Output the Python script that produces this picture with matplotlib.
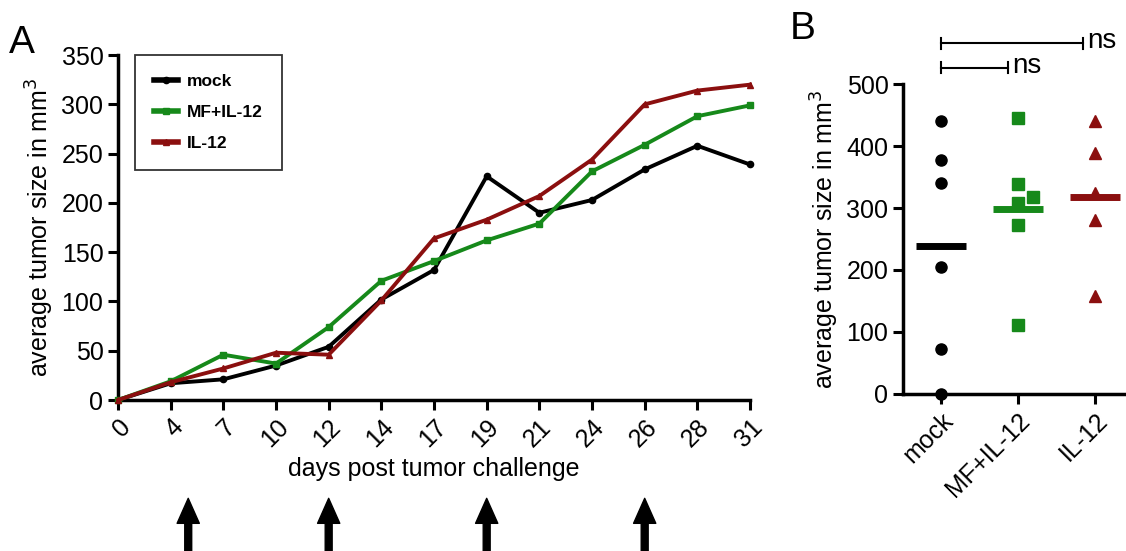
import numpy as np
import matplotlib
matplotlib.use("Agg")
import matplotlib.pyplot as plt

plt.rcParams["font.family"] = ["Liberation Sans", "DejaVu Sans"]

# ── Panel A: growth curves ───────────────────────────────────────────────────
days = [0, 4, 7, 10, 12, 14, 17, 19, 21, 24, 26, 28, 31]
mock = [0, 17, 21, 35, 54, 102, 132, 227, 190, 203, 234, 258, 239]
mf_il12 = [0, 19, 46, 37, 74, 121, 141, 162, 179, 232, 259, 288, 299]
il12 = [0, 18, 32, 48, 46, 101, 164, 183, 207, 244, 300, 314, 320]
treatment_days = [5, 12, 19, 26]

# ── Panel B: individual tumor sizes ──────────────────────────────────────────
groups = ["mock", "MF+IL-12", "IL-12"]
pts_mock = [440, 378, 340, 205, 72, 0]
pts_mf = [445, 338, 308, 318, 272, 112]
pts_il12 = [440, 388, 325, 280, 158]

BLACK = "#000000"
GREEN = "#16891a"
RED = "#8b0f0f"
FS = 18

fig = plt.figure(figsize=(11.26, 5.51), dpi=100)

# ── A ────────────────────────────────────────────────────────────────────────
axA = fig.add_axes([0.1048, 0.274, 0.5613, 0.626])
idx = np.arange(len(days))
styles = [("mock", mock, BLACK, "o"),
          ("MF+IL-12", mf_il12, GREEN, "s"),
          ("IL-12", il12, RED, "^")]
for name, vals, col, mk in styles:
    axA.plot(idx, vals, color=col, lw=2.8, marker=mk, ms=4.5,
             label=name, clip_on=False, zorder=3)

axA.set_xlim(0, len(days) - 1)
axA.set_ylim(0, 350)
axA.set_yticks(range(0, 351, 50))
axA.set_xticks(idx)
axA.set_xticklabels([str(d) for d in days], rotation=45,
                    ha="right", va="top", rotation_mode="anchor")
axA.set_xlabel("days post tumor challenge", fontsize=FS, labelpad=4)
axA.set_ylabel("average tumor size in mm$^3$", fontsize=FS, labelpad=4)

leg = axA.legend(loc="upper left", bbox_to_anchor=(0.027, 1.0),
                 borderaxespad=0, frameon=True, fancybox=False,
                 edgecolor="black", prop={"weight": "bold", "size": 12.5},
                 handlelength=1.4, handletextpad=0.5,
                 borderpad=1.1, labelspacing=0.9)
leg.get_frame().set_linewidth(1.3)
for h in leg.get_lines():
    h.set_linewidth(4)

# treatment arrows under the axis
for d in treatment_days:
    x = np.interp(d, days, idx)
    axA.annotate("", xy=(x, -0.285), xytext=(x, -0.45),
                 xycoords=axA.get_xaxis_transform(),
                 textcoords=axA.get_xaxis_transform(),
                 arrowprops=dict(facecolor="black", edgecolor="black",
                                 width=5, headwidth=16, headlength=18,
                                 shrink=0))

# ── B ────────────────────────────────────────────────────────────────────────
axB = fig.add_axes([0.802, 0.285, 0.198, 0.5625])
mf_offset = [0, 0, 0, 0.2, 0, 0]
point_sets = [(pts_mock, [0] * len(pts_mock), BLACK, "o", 8),
              (pts_mf, mf_offset, GREEN, "s", 8),
              (pts_il12, [0] * len(pts_il12), RED, "^", 9)]
for i, (vals, offs, col, mk, ms) in enumerate(point_sets):
    xs = [i + o for o in offs]
    axB.plot(xs, vals, ls="none", marker=mk, ms=ms, color=col,
             clip_on=False, zorder=3)
    m = np.mean(vals)
    axB.plot([i - 0.32, i + 0.32], [m, m], color=col, lw=5,
             solid_capstyle="butt", zorder=4)

axB.set_xlim(-0.49, 2.4)
axB.set_ylim(0, 500)
axB.set_yticks(range(0, 501, 100))
axB.set_xticks(range(len(groups)))
axB.set_xticklabels(groups, rotation=45, ha="right", va="top",
                    rotation_mode="anchor")
axB.set_ylabel("average tumor size in mm$^3$", fontsize=FS, labelpad=4)

# significance brackets
for x1, yb in [(1.84, 566), (0.87, 526)]:
    axB.plot([0, x1], [yb, yb], color="black", lw=1.5, clip_on=False)
    for xe in (0, x1):
        axB.plot([xe, xe], [yb - 9, yb + 9], color="black", lw=1.5,
                 clip_on=False)
    axB.text(x1 + 0.06, yb + 3, "ns", fontsize=20, ha="left", va="center",
             clip_on=False)

for ax in (axA, axB):
    for side in ("top", "right"):
        ax.spines[side].set_visible(False)
    for side in ("left", "bottom"):
        ax.spines[side].set_linewidth(2.5)
    ax.tick_params(width=2.2, length=7, labelsize=FS, direction="out")

fig.text(0.008, 0.89, "A", fontsize=28, va="bottom")
fig.text(0.701, 0.915, "B", fontsize=28, va="bottom")

fig.savefig("out.png", dpi=100)
